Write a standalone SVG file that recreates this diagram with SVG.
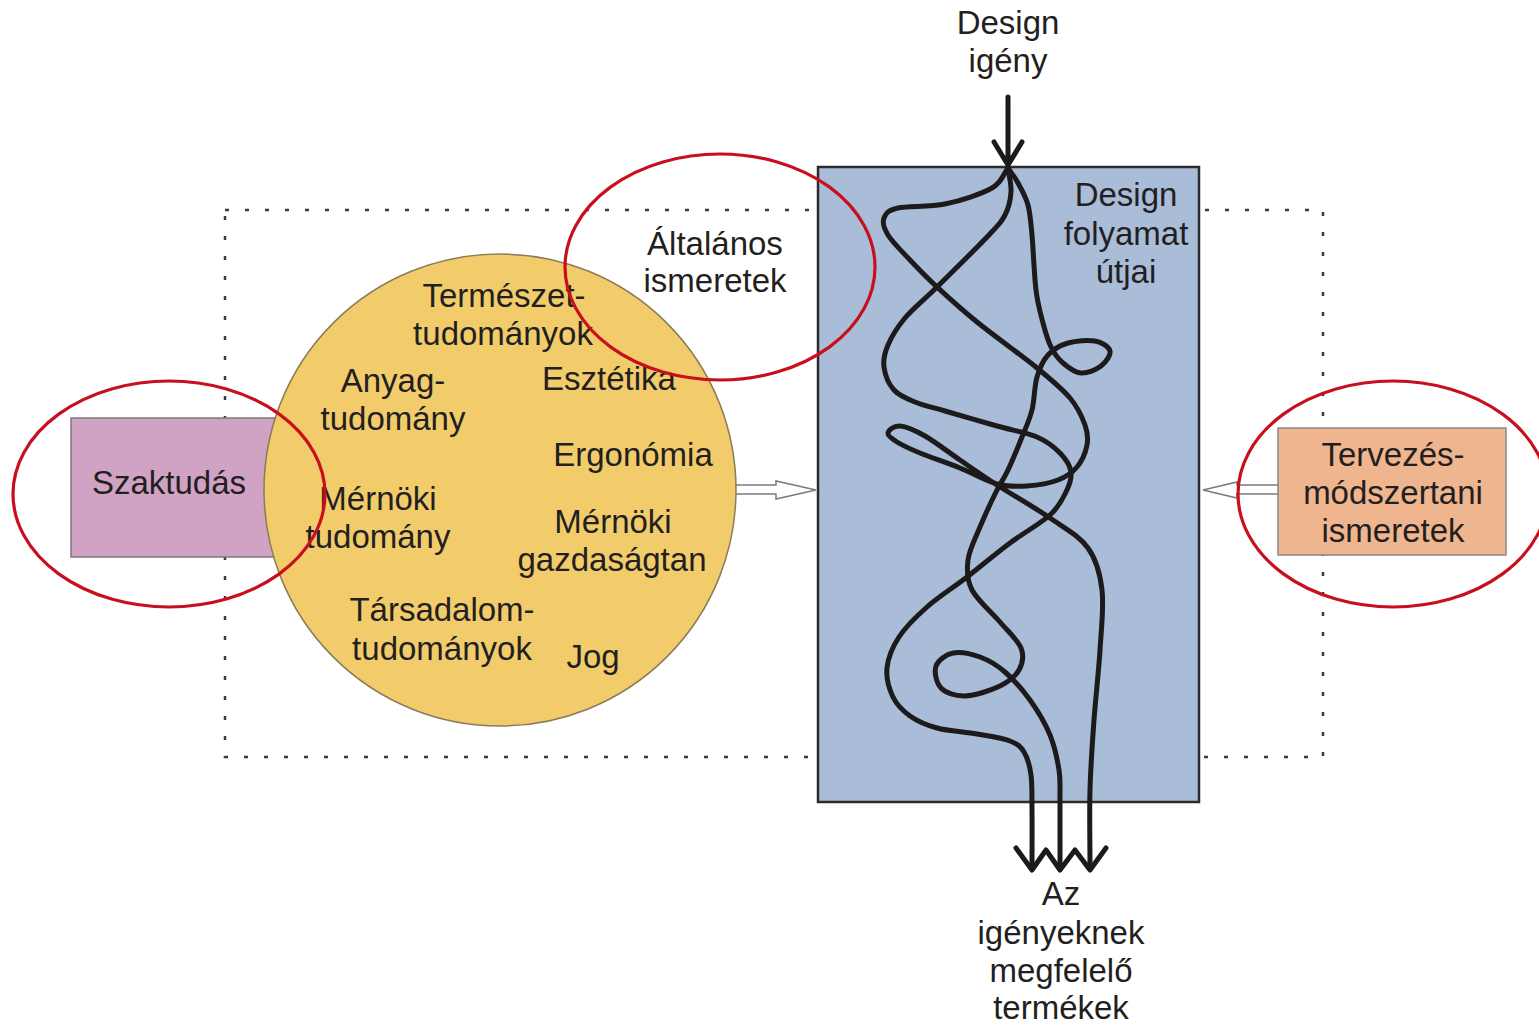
<svg xmlns="http://www.w3.org/2000/svg" width="1539" height="1026" viewBox="0 0 1539 1026">
<defs>
<style>
text{font-family:"Liberation Sans",Arial,sans-serif;font-size:33px;fill:#231f20;text-anchor:middle}
.path{fill:none;stroke:#1c1a1a;stroke-width:5;stroke-linecap:round;stroke-linejoin:round}
.hollow{fill:#fff;stroke:#7a7a7a;stroke-width:1.5}
.ring{fill:none;stroke:#c80f1e;stroke-width:3.2}
</style>
</defs>
<rect width="1539" height="1026" fill="#fff"/>
<g id="frame">
<rect x="225" y="210" width="1098" height="547" fill="none" stroke="#3a3a3a" stroke-width="2.5" stroke-dasharray="4 16"/>
</g>
<g id="szaktudas">
<rect x="71" y="418" width="220" height="139" fill="#d0a3c4" stroke="#7a7a7a" stroke-width="1.5"/>
<text x="169" y="494">Szaktudás</text>
</g>
<g id="connectors-hollow">
<path class="hollow" d="M734,485 H776 V481 L816,490 L776,499 V494 H734 Z"/>
<path class="hollow" d="M1279,485 H1237 V482 L1203,490 L1237,498 V494 H1279 Z"/>
</g>
<g id="altalanos">
<circle cx="500" cy="490" r="236" fill="#f2cc6b" stroke="#8c7b58" stroke-width="1.5"/>
<text x="504" y="307">Természet-</text>
<text x="503" y="345">tudományok</text>
<text x="393" y="392">Anyag-</text>
<text x="393" y="430">tudomány</text>
<text x="609" y="390">Esztétika</text>
<text x="633" y="466">Ergonómia</text>
<text x="378" y="510">Mérnöki</text>
<text x="378" y="548">tudomány</text>
<text x="613" y="533">Mérnöki</text>
<text x="612" y="571">gazdaságtan</text>
<text x="442" y="621">Társadalom-</text>
<text x="442" y="660">tudományok</text>
<text x="593" y="668">Jog</text>
</g>
<g id="altalanos-label">
<text x="715" y="255">Általános</text>
<text x="715" y="292">ismeretek</text>
</g>
<g id="design-folyamat">
<rect x="818" y="167" width="381" height="635" fill="#a9bcd8" stroke="#2b2b2b" stroke-width="2.5"/>
<text x="1126" y="206">Design</text>
<text x="1126" y="245">folyamat</text>
<text x="1126" y="283">útjai</text>
</g>
<g id="tervezes">
<rect x="1278" y="428" width="228" height="127" fill="#eeb58f" stroke="#888" stroke-width="1.5"/>
<text x="1393" y="466">Tervezés-</text>
<text x="1393" y="504">módszertani</text>
<text x="1393" y="542">ismeretek</text>
</g>
<g id="design-igeny">
<text x="1008" y="34">Design</text>
<text x="1008" y="72">igény</text>
</g>
<g id="termekek">
<text x="1061" y="905">Az</text>
<text x="1061" y="944">igényeknek</text>
<text x="1061" y="982">megfelelő</text>
<text x="1061" y="1019">termékek</text>
</g>
<g id="connectors">
<path class="path" d="M1008,97 V165 M994,142 L1008,165 L1022,142"/>
<path class="path" d="M1008,168 C1002.7,174.7 1002.5,182 992,188 S960.7,200.7 945,204 S908.2,205.7 898,208 S885.7,213.5 884,218 S883.7,228 888,235 S901.8,251.3 910,260 S925.8,276.7 937,287 S960.3,308.5 977,322 S1021.5,355.3 1037,368 S1062,388.5 1070,398 S1082.2,417.2 1085,425 S1088.3,438 1087,445 S1081.8,461.2 1077,467 S1066.3,476.8 1058,480 S1037.2,485.3 1027,486 S1008.2,487 997,484 S972.8,473.2 960,468 S930.5,457.3 920,453 S902.3,445.3 897,442 S887.5,435.7 888,433 S893.8,425.5 900,426 S915,430.3 925,436 S948,451.8 960,460 S982,475.3 997,485 S1034.8,507.5 1050,518 S1079.3,536 1088,548 S1100,573 1102,590 S1101.3,628.3 1100,650 S1095.7,696.7 1094,720 S1090.7,765 1090,790 S1090,843.3 1090,867"/>
<path class="path" d="M1008,168 C1009,176 1011.5,184.2 1011,192 S1008.8,207.7 1005,215 S999.3,224 988,236 S950.8,273.3 937,287 S913.2,308.3 905,318 S891.5,336.8 888,345 S883,359.5 884,367 S888.8,384.2 894,390 S906.5,398.5 915,402 S931.3,407 945,411 S981.7,421.7 997,426 S1026.5,432.5 1037,437 S1054.3,447.2 1060,453 S1070,465.5 1071,472 S1069.5,484.8 1066,492 S1059.3,506.5 1050,515 S1023.8,532.7 1010,543 S980.8,566.3 967,577 S938.3,597 927,607 S905.7,626.8 899,637 S888,658 887,668 S889.2,689 893,697 S902.7,710.8 910,716 S925.8,725 937,728 S964.8,731.8 977,734 S1002.2,738 1010,741 S1020.5,746.3 1024,752 S1029.7,765.3 1031,775 S1031.8,794.2 1032,810 S1032,850 1032,867"/>
<path class="path" d="M1008,168 C1011.3,173 1014.7,176.8 1018,183 S1025.7,196.3 1028,205 S1030.7,220.8 1032,235 S1034.2,275.3 1036,290 S1040.5,313.5 1043,323 S1047.7,340.3 1051,347 S1058,358.7 1063,363 S1074.7,372.5 1081,373 S1096.2,369.7 1101,366 S1111,355.2 1110,351 S1102,342.3 1095,341 S1075.8,340.7 1068,343 S1053.2,349.3 1048,355 S1039.7,367.8 1037,377 S1034.5,400 1032,410 S1026,427 1022,437 S1012.3,460.8 1008,470 S1000.7,482.5 996,492 S984.7,515.7 980,527 S969.3,549.5 968,560 S966.7,579.7 972,590 S991.8,612.3 1000,622 S1017.8,640 1021,648 S1022.5,663.7 1019,670 S1009,681.7 1000,686 S974.8,695.7 965,696 S945.8,693 941,688 S934,671.8 936,666 S945.7,654.5 953,653 S971.3,653.8 980,657 S996.7,664.8 1005,672 S1022.5,689.5 1030,700 S1045.2,723.3 1050,735 S1057.3,759.2 1059,770 S1059.8,783.3 1060,800 S1060,843 1060,867"/>
<path class="path" d="M1016,848 L1032,870 L1046,850 L1060,870 L1075,850 L1090,870 L1106,848"/>
</g>
<g id="highlights">
<ellipse class="ring" cx="169" cy="494" rx="156" ry="113"/>
<ellipse class="ring" cx="720" cy="267" rx="155" ry="113"/>
<ellipse class="ring" cx="1393" cy="494" rx="155" ry="113"/>
</g>
</svg>
